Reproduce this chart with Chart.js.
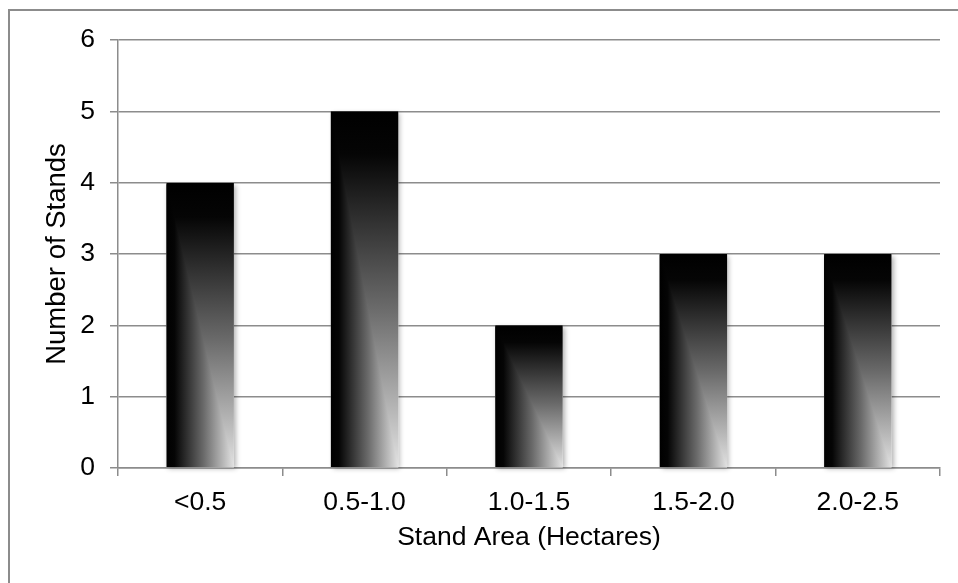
<!DOCTYPE html>
<html>
<head>
<meta charset="utf-8">
<script src="https://cdn.jsdelivr.net/npm/chart.js@4/dist/chart.umd.min.js"></script>
<style>
	html, body { margin: 0; padding: 0; background: #fff; overflow: hidden; }
	#wrap { position: relative; width: 958px; height: 583px; }
	#frame { position: absolute; left: 8px; top: 9px; width: 1200px; height: 900px; border: 2px solid #8c8c8c; box-sizing: border-box; }
	canvas { position: absolute; left: 0; top: 0; }
</style>
</head>
<body>
<div id="wrap">
	<div id="frame"></div>
	<canvas id="chart" width="958" height="583"></canvas>
</div>
<script>
	var categories = ['<0.5', '0.5-1.0', '1.0-1.5', '1.5-2.0', '2.0-2.5'];
	var standCounts = [4, 5, 2, 3, 3];
	var yTicks = [0, 1, 2, 3, 4, 5, 6];

	var fontFamily = '"Liberation Sans", Arial, sans-serif';
	var fontSize = 26.5;

	var addStops = function (g) {
		g.addColorStop(0, '#000000');
		g.addColorStop(0.12, '#050505');
		g.addColorStop(0.55, '#6a6a6a');
		g.addColorStop(1, '#e2e2e2');
		return g;
	};

	// vertical part of the fill: black at the top, light grey at the base
	var barFill = function (context) {
		var chart = context.chart;
		if (!chart.chartArea) {
			return '#000';
		}
		var y = chart.scales.y;
		var top = y.getPixelForValue(context.raw);
		var base = y.getPixelForValue(0);
		return addStops(chart.ctx.createLinearGradient(0, top, 0, base));
	};

	// shadow under each bar, then the lower-left triangle with a left-to-right fade
	var barShade = {
		id: 'barShade',
		beforeDatasetsDraw: function (chart) {
			var ctx = chart.ctx;
			ctx.save();
			chart.getDatasetMeta(0).data.forEach(function (bar) {
				var p = bar.getProps(['x', 'y', 'base', 'width'], true);
				ctx.shadowColor = 'rgba(0,0,0,0.3)';
				ctx.shadowBlur = 5;
				ctx.shadowOffsetX = 2;
				ctx.shadowOffsetY = 2;
				ctx.fillStyle = '#fff';
				ctx.fillRect(p.x - p.width / 2, p.y, p.width, p.base - p.y);
			});
			ctx.restore();
		},
		afterDatasetsDraw: function (chart) {
			var ctx = chart.ctx;
			ctx.save();
			chart.getDatasetMeta(0).data.forEach(function (bar) {
				var p = bar.getProps(['x', 'y', 'base', 'width'], true);
				var left = p.x - p.width / 2;
				var right = p.x + p.width / 2;
				ctx.fillStyle = addStops(ctx.createLinearGradient(left, 0, right, 0));
				ctx.beginPath();
				ctx.moveTo(left, p.y);
				ctx.lineTo(right, p.base);
				ctx.lineTo(left, p.base);
				ctx.closePath();
				ctx.fill();
			});
			ctx.restore();
		}
	};

	var ctx = document.getElementById('chart').getContext('2d');
	var chart = new Chart(ctx, {
		type: 'bar',
		data: {
			labels: categories,
			datasets: [{
				data: standCounts,
				backgroundColor: barFill,
				borderWidth: 0,
				categoryPercentage: 0.41,
				barPercentage: 1.0
			}]
		},
		options: {
			responsive: false,
			animation: false,
			layout: { padding: { left: 0, top: 40, right: 18, bottom: 0 } },
			plugins: {
				legend: { display: false },
				tooltip: { enabled: false }
			},
			scales: {
				x: {
					afterFit: function (scale) { scale.height = 115; },
					grid: {
						drawOnChartArea: false,
						drawTicks: true,
						tickLength: 8,
						color: '#8c8c8c',
						lineWidth: 1.5
					},
					border: { color: '#8c8c8c', width: 1.5 },
					ticks: {
						color: '#000',
						padding: 11,
						font: { family: fontFamily, size: fontSize }
					},
					title: {
						display: true,
						text: 'Stand Area (Hectares)',
						color: '#000',
						font: { family: fontFamily, size: fontSize },
						padding: { top: 0, bottom: 29 }
					}
				},
				y: {
					min: 0,
					max: 6,
					afterFit: function (scale) { scale.width = 118; },
					afterBuildTicks: function (scale) {
						scale.ticks = yTicks.map(function (v) { return { value: v }; });
					},
					grid: {
						color: '#8c8c8c',
						lineWidth: 1.5,
						tickLength: 8
					},
					border: { color: '#8c8c8c', width: 1.5 },
					ticks: {
						color: '#000',
						padding: 15,
						font: { family: fontFamily, size: fontSize }
					},
					title: {
						display: true,
						text: 'Number of Stands',
						color: '#000',
						font: { family: fontFamily, size: 27.5 },
						padding: { top: 41, bottom: 0 }
					}
				}
			}
		},
		plugins: [barShade]
	});
</script>
</body>
</html>
